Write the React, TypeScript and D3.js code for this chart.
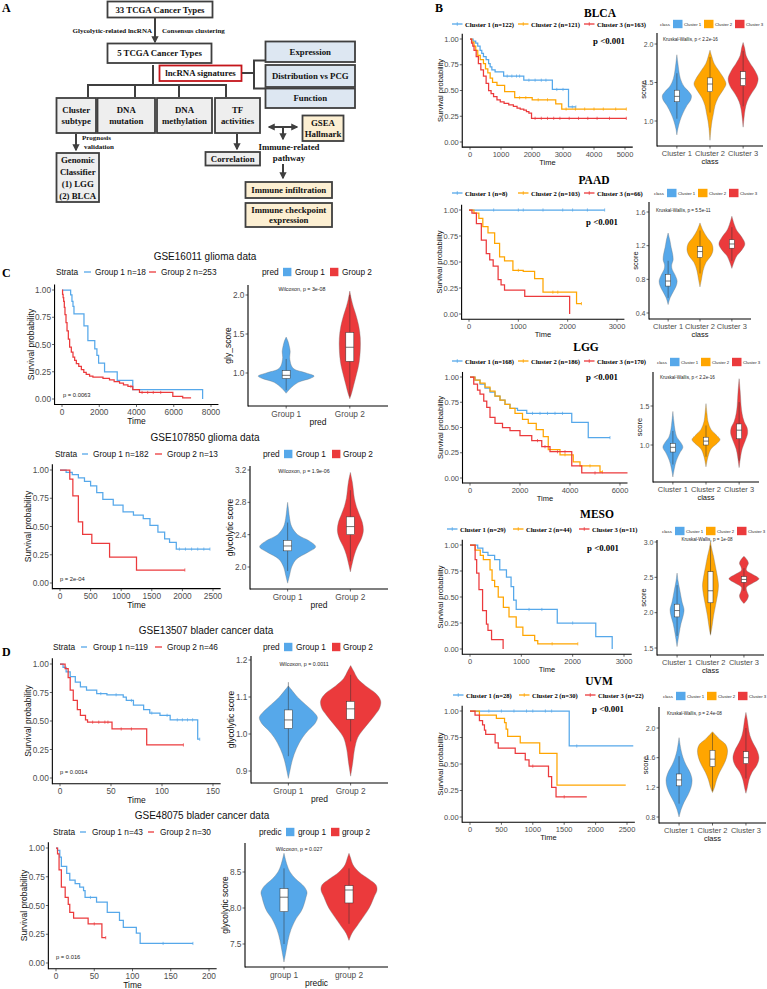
import React from "react";
import * as d3 from "d3";

type Step = [number, number];
type Dens = [number, number];
type Box = [number, number, number, number, number];

const BLUE = "#56A8EA";
const ORANGE = "#FFA500";
const RED = "#EB3A3C";
const SERIF = "'Liberation Serif','Times New Roman',serif";
const SANS = "'Liberation Sans',Arial,sans-serif";

// ---------------- shared ticks ----------------
const survTicks = [0, 0.25, 0.5, 0.75, 1];
const clusterNames = ["Cluster 1", "Cluster 2", "Cluster 3"];
const groupNames = ["Group 1", "Group 2"];
const groupNamesLower = ["group 1", "group 2"];

// ---------------- Panel B: BLCA ----------------
const blcaN = [122, 121, 163];
const blcaTime = [0, 1000, 2000, 3000, 4000, 5000];
const blcaKM1: Step[] = [[0, 1], [100, 0.98], [185, 0.96], [250, 0.93], [325, 0.89], [380, 0.86], [434, 0.83], [520, 0.8], [600, 0.76], [650, 0.73], [705, 0.7], [810, 0.68], [1085, 0.64], [1735, 0.6], [2657, 0.51], [3178, 0.34], [3416, 0.34]];
const blcaKM2: Step[] = [[0, 1], [60, 0.97], [130, 0.93], [185, 0.89], [250, 0.84], [330, 0.8], [434, 0.76], [500, 0.71], [575, 0.67], [650, 0.62], [727, 0.58], [870, 0.55], [1117, 0.49], [1442, 0.43], [2006, 0.41], [2766, 0.37], [2960, 0.32], [5043, 0.32]];
const blcaKM3: Step[] = [[0, 1], [50, 0.96], [90, 0.93], [130, 0.89], [200, 0.83], [270, 0.76], [350, 0.7], [434, 0.64], [520, 0.57], [600, 0.5], [680, 0.47], [760, 0.44], [870, 0.41], [976, 0.39], [1100, 0.375], [1250, 0.36], [1400, 0.345], [1518, 0.33], [1620, 0.32], [1735, 0.31], [1820, 0.295], [1900, 0.28], [1985, 0.23], [5043, 0.23]];
const blcaCens1 = [1200, 1350, 1500, 1600, 1900, 2100, 2300, 2450, 2800, 3000, 3300, 3416];
const blcaCens2 = [1600, 1800, 2200, 2500, 3100, 3400, 3700, 4000, 4300, 4700, 5043];
const blcaCens3 = [2100, 2300, 2500, 2700, 2900, 3200, 3500, 3800, 4100, 4500, 5043];
const blcaScoreTicks = [1.0, 1.5, 2.0];
const blcaV1: Dens[] = [[0.82, 0], [0.9, 1], [1.0, 3], [1.1, 6], [1.2, 10], [1.28, 14], [1.33, 14.5], [1.38, 12], [1.45, 7], [1.55, 3.5], [1.65, 2], [1.75, 1], [1.86, 0]];
const blcaV2: Dens[] = [[0.75, 0], [0.9, 1], [1.0, 2], [1.1, 3.5], [1.2, 5], [1.3, 8], [1.4, 13], [1.48, 16], [1.55, 14], [1.65, 9], [1.75, 4], [1.85, 1.5], [1.92, 0]];
const blcaV3: Dens[] = [[0.92, 0], [1.05, 1], [1.15, 2], [1.25, 4], [1.35, 8], [1.45, 13], [1.55, 15], [1.65, 12], [1.75, 7], [1.85, 3], [1.95, 1.5], [2.02, 0]];
const blcaBox: Box[] = [[1.03, 1.25, 1.32, 1.4, 1.62], [1.11, 1.38, 1.48, 1.56, 1.83], [1.19, 1.46, 1.55, 1.64, 1.91]];

// ---------------- Panel B: PAAD ----------------
const paadN = [8, 103, 66];
const paadTime = [0, 1000, 2000, 3000];
const paadKM1: Step[] = [[0, 1], [2750, 1]];
const paadKM2: Step[] = [[0, 1], [100, 0.97], [200, 0.92], [280, 0.84], [385, 0.78], [520, 0.68], [620, 0.55], [720, 0.51], [890, 0.42], [1100, 0.41], [1330, 0.34], [1500, 0.21], [2180, 0.1], [2280, 0.1]];
const paadKM3: Step[] = [[0, 1], [60, 0.97], [150, 0.87], [250, 0.71], [350, 0.58], [420, 0.52], [490, 0.46], [590, 0.33], [650, 0.28], [720, 0.23], [1130, 0.17], [2040, 0]];
const paadCens1 = [500, 1000, 1100, 1500, 1900, 2100, 2400, 2750];
const paadCens2 = [1000, 1700, 1800, 2280];
const paadScoreTicks = [0.4, 0.8, 1.2, 1.6];
const paadV1: Dens[] = [[0.5, 0], [0.58, 2], [0.65, 5], [0.72, 8], [0.78, 9], [0.85, 7], [0.92, 4], [0.97, 3.5], [1.03, 5], [1.1, 4.5], [1.18, 3], [1.25, 2], [1.35, 0]];
const paadV2: Dens[] = [[0.71, 0], [0.8, 1.5], [0.9, 3], [1.0, 6], [1.08, 11], [1.15, 13], [1.22, 12], [1.3, 7], [1.38, 3], [1.47, 0]];
const paadV3: Dens[] = [[0.93, 0], [1.0, 2], [1.08, 5], [1.15, 10], [1.22, 13], [1.3, 10], [1.38, 5], [1.45, 2.5], [1.55, 0]];
const paadBox: Box[] = [[0.58, 0.72, 0.78, 0.86, 1.02], [0.87, 1.06, 1.13, 1.19, 1.38], [1.02, 1.17, 1.22, 1.27, 1.42]];

// ---------------- Panel B: LGG ----------------
const lggN = [168, 186, 170];
const lggTime = [0, 2000, 4000, 6000];
const lggKM1: Step[] = [[0, 1], [200, 0.97], [400, 0.93], [600, 0.89], [800, 0.85], [1000, 0.81], [1200, 0.77], [1400, 0.73], [1600, 0.69], [1900, 0.67], [2270, 0.64], [4070, 0.55], [4730, 0.4], [5600, 0.4]];
const lggKM2: Step[] = [[0, 1], [200, 0.97], [400, 0.94], [600, 0.9], [800, 0.86], [1000, 0.81], [1200, 0.77], [1400, 0.73], [1600, 0.69], [1800, 0.64], [2100, 0.58], [2330, 0.54], [2650, 0.48], [2930, 0.41], [3130, 0.28], [3600, 0.23], [4130, 0.16], [4400, 0.12], [5200, 0.06], [5300, 0.06]];
const lggKM3: Step[] = [[0, 1], [150, 0.93], [300, 0.87], [400, 0.83], [550, 0.76], [670, 0.7], [800, 0.6], [1000, 0.54], [1300, 0.5], [1600, 0.47], [2000, 0.42], [2470, 0.37], [2870, 0.31], [3200, 0.26], [4070, 0.12], [4470, 0.05], [6300, 0.05]];
const lggCens1 = [2500, 2800, 3100, 3400, 3700, 5600];
const lggCens2 = [3800, 4800, 5300];
const lggCens3 = [2700, 3000, 3500, 3800, 5000];
const lggScoreTicks = [1.0, 1.5];
const lggV1: Dens[] = [[0.59, 0], [0.7, 1.5], [0.8, 3.5], [0.9, 7], [0.97, 10], [1.03, 8], [1.1, 4], [1.2, 2], [1.3, 1], [1.43, 0]];
const lggV2: Dens[] = [[0.72, 0], [0.85, 2], [0.95, 5], [1.02, 11], [1.07, 14], [1.12, 11], [1.2, 5], [1.3, 2], [1.4, 1], [1.53, 0]];
const lggV3: Dens[] = [[0.71, 0], [0.85, 1.5], [0.95, 3], [1.05, 6], [1.15, 8.5], [1.22, 8], [1.3, 5], [1.4, 3], [1.5, 2], [1.6, 1.5], [1.7, 1], [1.85, 0]];
const lggBox: Box[] = [[0.75, 0.91, 0.97, 1.02, 1.18], [0.85, 1.0, 1.05, 1.1, 1.25], [0.8, 1.08, 1.19, 1.27, 1.55]];

// ---------------- Panel B: MESO ----------------
const mesoN = [29, 44, 11];
const mesoTime = [0, 1000, 2000, 3000];
const mesoKM1: Step[] = [[0, 1], [150, 0.97], [250, 0.93], [350, 0.9], [480, 0.86], [580, 0.76], [710, 0.69], [800, 0.6], [850, 0.47], [900, 0.38], [1700, 0.25], [2450, 0.12], [2770, 0]];
const mesoKM2: Step[] = [[0, 1], [100, 0.95], [200, 0.9], [260, 0.86], [390, 0.76], [430, 0.66], [480, 0.6], [550, 0.5], [650, 0.4], [760, 0.31], [900, 0.21], [1030, 0.13], [1260, 0.08], [1320, 0.05], [2100, 0.05]];
const mesoKM3: Step[] = [[0, 1], [100, 0.86], [130, 0.73], [175, 0.57], [245, 0.37], [320, 0.24], [350, 0.18], [420, 0.09], [645, 0]];
const mesoCens1 = [1150, 1400, 2000];
const mesoCens2 = [1600, 2100];
const mesoScoreTicks = [1.5, 2.0, 2.5, 3.0];
const mesoV1: Dens[] = [[1.52, 0], [1.7, 2], [1.85, 4], [1.95, 6], [2.04, 7], [2.15, 5], [2.3, 3], [2.45, 1], [2.56, 0]];
const mesoV2: Dens[] = [[1.68, 0], [1.8, 1.5], [1.95, 3], [2.1, 5], [2.25, 7], [2.38, 8], [2.5, 7], [2.65, 5], [2.8, 3], [2.92, 1], [3.02, 0]];
const mesoV3: Dens[] = [[2.13, 0], [2.18, 3], [2.24, 4.5], [2.3, 3], [2.36, 2.5], [2.42, 9], [2.48, 15], [2.54, 9], [2.6, 2.5], [2.65, 3], [2.7, 4.5], [2.75, 3], [2.8, 0]];
const mesoBox: Box[] = [[1.67, 1.94, 2.03, 2.12, 2.39], [1.7, 2.14, 2.31, 2.58, 2.95], [2.31, 2.43, 2.47, 2.51, 2.63]];

// ---------------- Panel B: UVM ----------------
const uvmN = [28, 30, 22];
const uvmTime = [0, 500, 1000, 1500, 2000, 2500];
const uvmKM1: Step[] = [[0, 1], [1580, 0.67], [2600, 0.67]];
const uvmKM2: Step[] = [[0, 1], [150, 0.96], [420, 0.93], [550, 0.89], [575, 0.83], [600, 0.76], [800, 0.7], [1110, 0.6], [1385, 0.3], [2480, 0.3]];
const uvmKM3: Step[] = [[0, 1], [80, 0.96], [150, 0.91], [200, 0.87], [230, 0.82], [250, 0.78], [400, 0.7], [450, 0.65], [720, 0.6], [880, 0.54], [940, 0.48], [1250, 0.38], [1300, 0.28], [1370, 0.19], [1860, 0.19]];
const uvmCens1 = [300, 500, 700, 900, 1000, 1200, 1300, 1700];
const uvmCens3 = [1000, 1500];
const uvmScoreTicks = [0.8, 1.2, 1.6, 2.0];
const uvmV1: Dens[] = [[0.8, 0], [0.9, 2], [1.0, 5], [1.1, 9], [1.2, 12], [1.3, 13], [1.4, 11], [1.5, 7], [1.6, 4], [1.7, 2], [1.87, 0]];
const uvmV2: Dens[] = [[1.13, 0], [1.2, 2], [1.3, 4], [1.4, 7], [1.5, 11], [1.6, 14], [1.7, 15], [1.78, 13], [1.85, 7], [1.95, 0]];
const uvmV3: Dens[] = [[1.12, 0], [1.2, 1.5], [1.3, 3], [1.4, 6], [1.5, 11], [1.6, 13], [1.7, 11], [1.8, 7], [1.9, 4], [2.0, 2.5], [2.1, 1.5], [2.21, 0]];
const uvmBox: Box[] = [[0.98, 1.22, 1.3, 1.38, 1.62], [1.15, 1.48, 1.58, 1.7, 1.93], [1.32, 1.52, 1.6, 1.68, 2.0]];

// ---------------- Panel C: GSE16011 ----------------
const g16011N = [18, 253];
const g16011Time = [0, 2000, 4000, 6000, 8000];
const g16011KM1: Step[] = [[0, 1], [464, 0.955], [535, 0.895], [590, 0.85], [643, 0.78], [1180, 0.67], [1390, 0.535], [1760, 0.46], [1875, 0.4], [1965, 0.33], [2285, 0.25], [2965, 0.17], [3800, 0.085], [7550, 0]];
const g16011KM2: Step[] = [[0, 1], [30, 0.96], [60, 0.93], [90, 0.895], [125, 0.84], [160, 0.775], [215, 0.7], [270, 0.625], [340, 0.55], [410, 0.475], [500, 0.43], [590, 0.385], [680, 0.355], [770, 0.325], [900, 0.3], [1040, 0.27], [1170, 0.245], [1300, 0.225], [1480, 0.21], [1660, 0.2], [2200, 0.19], [2550, 0.175], [2800, 0.16], [3090, 0.145], [3300, 0.13], [3540, 0.115], [3800, 0.085], [4160, 0.06], [5950, 0.025], [6480, 0.01], [6930, 0.01]];
const g16011Cens2 = [3700, 4300, 4600, 4900, 5300];
const g16011ScoreTicks = [1.0, 1.5, 2.0];
const g16011V1: Dens[] = [[0.74, 0], [0.8, 4], [0.88, 12], [0.93, 24], [0.96, 28], [1.0, 20], [1.05, 8], [1.1, 5], [1.15, 4], [1.2, 3.5], [1.28, 4], [1.35, 3], [1.4, 2], [1.46, 0]];
const g16011V2: Dens[] = [[0.67, 0], [0.75, 2], [0.85, 4], [0.95, 6], [1.05, 8], [1.15, 9.5], [1.3, 10.5], [1.45, 10.5], [1.6, 9], [1.75, 6], [1.85, 3.5], [1.95, 1.5], [2.05, 0]];
const g16011Box: Box[] = [[0.78, 0.93, 0.97, 1.03, 1.18], [0.7, 1.15, 1.33, 1.52, 2.0]];

// ---------------- Panel C: GSE107850 ----------------
const g107850N = [182, 13];
const g107850Time = [0, 500, 1000, 1500, 2000, 2500];
const g107850KM1: Step[] = [[0, 1], [100, 0.98], [200, 0.96], [300, 0.93], [400, 0.9], [500, 0.86], [600, 0.8], [700, 0.74], [870, 0.69], [1030, 0.63], [1200, 0.6], [1360, 0.57], [1470, 0.51], [1600, 0.45], [1710, 0.39], [1790, 0.36], [1900, 0.3], [2450, 0.3]];
const g107850KM2: Step[] = [[0, 1], [160, 0.92], [210, 0.77], [300, 0.54], [370, 0.43], [520, 0.35], [810, 0.23], [1250, 0.115], [2040, 0.115]];
const g107850Cens1 = [1950, 2050, 2150, 2250, 2350, 2450];
const g107850Cens2 = [2040];
const g107850ScoreTicks = [2.0, 2.4, 2.8, 3.2];
const g107850V1: Dens[] = [[1.8, 0], [1.9, 2], [2.0, 4], [2.1, 9], [2.18, 20], [2.25, 28], [2.32, 22], [2.4, 10], [2.5, 4], [2.6, 2], [2.7, 1], [2.8, 0]];
const g107850V2: Dens[] = [[1.94, 0], [2.05, 2], [2.15, 4], [2.25, 7], [2.35, 11], [2.45, 13], [2.55, 12], [2.65, 9], [2.75, 6], [2.85, 4], [2.95, 3], [3.05, 2], [3.17, 0]];
const g107850Box: Box[] = [[1.95, 2.2, 2.26, 2.33, 2.55], [2.07, 2.4, 2.5, 2.62, 2.95]];

// ---------------- Panel D: GSE13507 ----------------
const g13507N = [119, 46];
const g13507Time = [0, 50, 100, 150];
const g13507KM1: Step[] = [[0, 1], [3, 0.97], [6, 0.93], [10, 0.89], [15, 0.84], [20, 0.8], [26, 0.77], [36, 0.74], [46, 0.73], [62, 0.71], [65, 0.68], [72, 0.64], [82, 0.6], [88, 0.57], [98, 0.55], [108, 0.51], [135, 0.34], [137, 0.34]];
const g13507KM2: Step[] = [[0, 1], [5, 0.96], [8, 0.88], [10, 0.77], [13, 0.68], [17, 0.6], [20, 0.55], [25, 0.51], [27, 0.49], [51, 0.43], [85, 0.29], [121, 0.29]];
const g13507Cens1 = [40, 55, 70, 90, 105, 115, 120, 125, 130, 137];
const g13507Cens2 = [32, 38, 44, 47, 60, 70, 121];
const g13507ScoreTicks = [0.9, 1.0, 1.1, 1.2];
const g13507V1: Dens[] = [[0.88, 0], [0.9, 1.5], [0.93, 4], [0.96, 8], [0.99, 14], [1.01, 20], [1.03, 27], [1.045, 29], [1.06, 25], [1.08, 17], [1.1, 9], [1.12, 3], [1.13, 0]];
const g13507V2: Dens[] = [[0.886, 0], [0.92, 2], [0.96, 4], [0.99, 7], [1.01, 12], [1.03, 18], [1.05, 24], [1.07, 29], [1.09, 30], [1.11, 25], [1.13, 15], [1.15, 7], [1.17, 3], [1.185, 0]];
const g13507Box: Box[] = [[0.94, 1.015, 1.038, 1.065, 1.14], [0.98, 1.04, 1.068, 1.088, 1.16]];

// ---------------- Panel D: GSE48075 ----------------
const g48075N = [43, 30];
const g48075Time = [0, 50, 100, 150, 200];
const g48075KM1: Step[] = [[0, 1], [2, 0.98], [5, 0.92], [7, 0.84], [14, 0.78], [18, 0.72], [25, 0.69], [31, 0.66], [36, 0.63], [38, 0.57], [53, 0.53], [67, 0.44], [83, 0.37], [88, 0.31], [105, 0.26], [110, 0.17], [179, 0.17]];
const g48075KM2: Step[] = [[0, 1], [2, 0.95], [4, 0.81], [7, 0.66], [12, 0.57], [16, 0.51], [18, 0.44], [23, 0.39], [42, 0.34], [60, 0.22], [65, 0.22]];
const g48075Cens1 = [45, 140, 179];
const g48075Cens2 = [50, 65];
const g48075ScoreTicks = [7.5, 8.0, 8.5];
const g48075V1: Dens[] = [[7.25, 0], [7.4, 2], [7.55, 4], [7.7, 7], [7.85, 12], [7.95, 17], [8.05, 20], [8.15, 22], [8.22, 23], [8.3, 20], [8.4, 12], [8.5, 6], [8.6, 3], [8.76, 0]];
const g48075V2: Dens[] = [[7.55, 0], [7.65, 3], [7.75, 8], [7.85, 13], [7.95, 18], [8.05, 22], [8.15, 25], [8.25, 28], [8.32, 27], [8.4, 20], [8.5, 10], [8.6, 4], [8.7, 1.5], [8.76, 0]];
const g48075Box: Box[] = [[7.5, 7.95, 8.15, 8.27, 8.55], [7.78, 8.07, 8.25, 8.31, 8.55]];

// ---------------- helpers ----------------
const fmt2 = d3.format(".2f");
const fmt1 = d3.format(".1f");

function survAt(steps: Step[], t: number) {
  let s = steps[0][1];
  for (const [tt, ss] of steps) { if (tt <= t) s = ss; }
  return s;
}

type Curve = { steps: Step[]; color: string; cens?: number[] };

function KM(p: {
  l: number; r: number; t: number; b: number; xTicks: number[];
  curves: Curve[];
  tickFs: number; titleFs: number; yTitleDx: number; xLabDy: number; xTitleDy: number;
}) {
  const { l, r, t, b, xTicks, curves, tickFs, titleFs } = p;
  const x = d3.scaleLinear().domain([0, xTicks[xTicks.length - 1]]).range([l, r]);
  const y = d3.scaleLinear().domain([0, 1]).range([b, t]);
  const px = 0.05 * (r - l), py = 0.05 * (b - t);
  const axL = l - px, axR = r + px, axB = b + py, axT = t - py;
  const line = d3.line<Step>().x(d => x(d[0])).y(d => y(d[1])).curve(d3.curveStepAfter);
  return (
    <g fontFamily={SANS}>
      {curves.map((c, i) => (
        <g key={i}>
          <path d={line(c.steps) || ""} fill="none" stroke={c.color} strokeWidth={1.25} />
          {(c.cens || []).map((ct, j) => {
            const cy = y(survAt(c.steps, ct));
            return <line key={j} x1={x(ct)} x2={x(ct)} y1={cy - 1.6} y2={cy + 1.6} stroke={c.color} strokeWidth={0.7} />;
          })}
        </g>
      ))}
      <line x1={axL} x2={axL} y1={axT} y2={axB + 0.5} stroke="#000" strokeWidth={1.1} />
      <line x1={axL} x2={axR} y1={axB} y2={axB} stroke="#000" strokeWidth={1.1} />
      {survTicks.map(v => (
        <g key={v}>
          <line x1={axL - 2.5} x2={axL} y1={y(v)} y2={y(v)} stroke="#222" strokeWidth={0.7} />
          <text x={axL - 3.5} y={y(v)} dominantBaseline="central" textAnchor="end" fontSize={tickFs} fill="#4D4D4D">{fmt2(v)}</text>
        </g>
      ))}
      {xTicks.map(v => (
        <g key={v}>
          <line x1={x(v)} x2={x(v)} y1={axB} y2={axB + 2.5} stroke="#222" strokeWidth={0.7} />
          <text x={x(v)} y={axB + p.xLabDy} dominantBaseline="central" textAnchor="middle" fontSize={tickFs} fill="#4D4D4D">{v}</text>
        </g>
      ))}
      <text x={(axL + axR) / 2} y={axB + p.xTitleDy} dominantBaseline="central" textAnchor="middle" fontSize={titleFs} fill="#111">Time</text>
      <text transform={`translate(${axL - p.yTitleDx},${(axT + axB) / 2}) rotate(-90)`} dominantBaseline="central" textAnchor="middle" fontSize={titleFs} fill="#111">Survival probability</text>
    </g>
  );
}

function Violin(p: {
  ax: number; right: number; top: number; bottom: number; yRef: [number, number, number, number];
  yTicks: number[]; cats: string[]; groups: { dens: Dens[]; box: Box; color: string }[];
  boxW: number; tickFs: number; catFs: number; titleFs: number; yTitle: string; xTitle: string;
  yTitleDx: number; catDy: number; xTitleDy: number;
}) {
  const { ax, right, top, bottom, yRef, cats, groups } = p;
  const y = d3.scaleLinear().domain([yRef[0], yRef[2]]).range([yRef[1], yRef[3]]);
  const xs = d3.scalePoint<string>().domain(cats).range([ax, right]).padding(0.6);
  const w = d3.scaleLinear().domain([0, 30]).range([0, 30]);
  return (
    <g fontFamily={SANS}>
      {groups.map((g, i) => {
        const cx = xs(cats[i]) as number;
        const area = d3.area<Dens>().y(d => y(d[0])).x0(d => cx - w(d[1])).x1(d => cx + w(d[1])).curve(d3.curveCatmullRom);
        const [lo, q1, med, q3, hi] = g.box;
        return (
          <g key={i}>
            <path d={area(g.dens) || ""} fill={g.color} stroke="#6e6e6e" strokeWidth={0.35} />
            <line x1={cx} x2={cx} y1={y(hi)} y2={y(lo)} stroke="#333" strokeWidth={0.5} />
            <rect x={cx - p.boxW / 2} y={y(q3)} width={p.boxW} height={y(q1) - y(q3)} fill="#fff" stroke="#333" strokeWidth={0.5} />
            <line x1={cx - p.boxW / 2} x2={cx + p.boxW / 2} y1={y(med)} y2={y(med)} stroke="#333" strokeWidth={0.7} />
          </g>
        );
      })}
      <line x1={ax} x2={ax} y1={top} y2={bottom + 0.5} stroke="#000" strokeWidth={1.1} />
      <line x1={ax} x2={right} y1={bottom} y2={bottom} stroke="#000" strokeWidth={1.1} />
      {p.yTicks.map(v => (
        <g key={v}>
          <line x1={ax - 2.5} x2={ax} y1={y(v)} y2={y(v)} stroke="#222" strokeWidth={0.7} />
          <text x={ax - 3.5} y={y(v)} dominantBaseline="central" textAnchor="end" fontSize={p.tickFs} fill="#4D4D4D">{fmt1(v)}</text>
        </g>
      ))}
      {cats.map(c => (
        <g key={c}>
          <line x1={xs(c)} x2={xs(c)} y1={bottom} y2={bottom + 2.5} stroke="#222" strokeWidth={0.7} />
          <text x={xs(c)} y={bottom + p.catDy} dominantBaseline="central" textAnchor="middle" fontSize={p.catFs} fill="#4D4D4D">{c}</text>
        </g>
      ))}
      <text x={(ax + right) / 2} y={bottom + p.xTitleDy} dominantBaseline="central" textAnchor="middle" fontSize={p.titleFs} fill="#111">{p.xTitle}</text>
      <text transform={`translate(${ax - p.yTitleDx},${(top + bottom) / 2}) rotate(-90)`} dominantBaseline="central" textAnchor="middle" fontSize={p.titleFs} fill="#111">{p.yTitle}</text>
    </g>
  );
}

const COLORS3 = [BLUE, ORANGE, RED];

function BRow(p: {
  title: string; titleX: number; titleY: number; legY: number; legDx: number; n: number[];
  km: { l: number; r: number; t: number; b: number }; time: number[]; kms: Step[][]; cens: number[][];
  pX: number; pY: number;
  vio: { ax: number; right: number; top: number; bottom: number; yRef: [number, number, number, number] };
  scoreTicks: number[]; dens: Dens[][]; boxes: Box[];
  vLegX: number; vLegY: number; kwText: string; kwX: number; kwY: number; kwAnchor: "start" | "middle";
}) {
  const lineX = [452, 518, 584];
  return (
    <g>
      <text x={p.titleX} y={p.titleY} dominantBaseline="central" textAnchor="middle" fontFamily={SERIF} fontWeight="bold" fontSize={11.5}>{p.title}</text>
      {clusterNames.map((c, i) => (
        <g key={c} transform={`translate(${lineX[i] + p.legDx},${p.legY})`}>
          <line x1={0} x2={10.5} y1={0} y2={0} stroke={COLORS3[i]} strokeWidth={1.3} />
          <line x1={5.25} x2={5.25} y1={-1.8} y2={1.8} stroke={COLORS3[i]} strokeWidth={0.8} />
          <text x={13} y={0} dominantBaseline="central" fontFamily={SERIF} fontWeight="bold" fontSize={6.6}>{`${c} (n=${p.n[i]})`}</text>
        </g>
      ))}
      <KM l={p.km.l} r={p.km.r} t={p.km.t} b={p.km.b} xTicks={p.time}
        curves={p.kms.map((s, i) => ({ steps: s, color: COLORS3[i], cens: p.cens[i] }))}
        tickFs={7.5} titleFs={7.5} yTitleDx={22} xLabDy={7} xTitleDy={15} />
      <text x={p.pX} y={p.pY} dominantBaseline="central" textAnchor="end" fontFamily={SERIF} fontWeight="bold" fontSize={8.8}>p &lt;0.001</text>
      <g transform={`translate(${p.vLegX},${p.vLegY})`} fontFamily={SANS}>
        <text x={0} y={0} dominantBaseline="central" fontSize={4.3} fill="#222">class</text>
        {clusterNames.map((c, i) => (
          <g key={c} transform={`translate(${13 + i * 31},0)`}>
            <rect x={0} y={-4.2} width={9.5} height={8.4} fill={COLORS3[i]} />
            <text x={11} y={0} dominantBaseline="central" fontSize={4.3} fill="#222">{c}</text>
          </g>
        ))}
      </g>
      <text x={p.kwX} y={p.kwY} dominantBaseline="central" textAnchor={p.kwAnchor} fontFamily={SANS} fontSize={4.6} fill="#222">{p.kwText}</text>
      <Violin ax={p.vio.ax} right={p.vio.right} top={p.vio.top} bottom={p.vio.bottom} yRef={p.vio.yRef}
        yTicks={p.scoreTicks} cats={clusterNames}
        groups={p.dens.map((d, i) => ({ dens: d, box: p.boxes[i], color: COLORS3[i] }))}
        boxW={5} tickFs={7} catFs={7.5} titleFs={7.5} yTitle="score" xTitle="class" yTitleDx={14} catDy={7} xTitleDy={15} />
    </g>
  );
}

function LRow(p: {
  title: string; titleX: number; titleY: number; legY: number;
  strataX: number; dash: [number, number][]; gTextX: number[]; gLabels: string[];
  predLabel: string; predX: number; sqX: number[]; sqTextX: number[]; cats: string[];
  km: { l: number; r: number; t: number; b: number }; time: number[]; kms: Step[][]; cens: number[][];
  pText: string; pX: number; pY: number;
  vio: { ax: number; right: number; top: number; bottom: number; yRef: [number, number, number, number] };
  scoreTicks: number[]; dens: Dens[][]; boxes: Box[]; yTitle: string; xTitle: string;
  wText: string; wX: number; wY: number;
}) {
  const cols = [BLUE, RED];
  return (
    <g fontFamily={SANS}>
      <text x={p.titleX} y={p.titleY} dominantBaseline="central" textAnchor="middle" fontSize={10} fill="#111">{p.title}</text>
      <text x={p.strataX} y={p.legY} dominantBaseline="central" fontSize={8.3} fill="#111">Strata</text>
      {p.gLabels.map((g, i) => (
        <g key={g}>
          <line x1={p.dash[i][0]} x2={p.dash[i][1]} y1={p.legY} y2={p.legY} stroke={cols[i]} strokeWidth={1.3} />
          <text x={p.gTextX[i]} y={p.legY} dominantBaseline="central" fontSize={8.3} fill="#111">{g}</text>
        </g>
      ))}
      <text x={p.predX} y={p.legY} dominantBaseline="central" fontSize={8.3} fill="#111">{p.predLabel}</text>
      {p.cats.map((c, i) => (
        <g key={c}>
          <rect x={p.sqX[i]} y={p.legY - 4.2} width={8.4} height={8.4} fill={cols[i]} />
          <text x={p.sqTextX[i]} y={p.legY} dominantBaseline="central" fontSize={8.3} fill="#111">{c}</text>
        </g>
      ))}
      <KM l={p.km.l} r={p.km.r} t={p.km.t} b={p.km.b} xTicks={p.time}
        curves={p.kms.map((s, i) => ({ steps: s, color: cols[i], cens: p.cens[i] }))}
        tickFs={8.3} titleFs={8.5} yTitleDx={24} xLabDy={7.5} xTitleDy={16.5} />
      <text x={p.pX} y={p.pY} dominantBaseline="central" fontSize={5.8} fill="#222">{p.pText}</text>
      <text x={p.wX} y={p.wY} dominantBaseline="central" textAnchor="middle" fontSize={5.3} fill="#222">{p.wText}</text>
      <Violin ax={p.vio.ax} right={p.vio.right} top={p.vio.top} bottom={p.vio.bottom} yRef={p.vio.yRef}
        yTicks={p.scoreTicks} cats={p.cats}
        groups={p.dens.map((d, i) => ({ dens: d, box: p.boxes[i], color: cols[i] }))}
        boxW={8} tickFs={8.3} catFs={8.3} titleFs={8.5} yTitle={p.yTitle} xTitle={p.xTitle} yTitleDx={20} catDy={7.5} xTitleDy={16} />
    </g>
  );
}

function PanelA() {
  const st = "#3f3f3f";
  const Box = (b: { x: number; y: number; w: number; h: number; fill: string; lines: string[]; stroke?: string; lh?: number }) => {
    const lh = b.lh ?? 11.8;
    const cy = b.y + b.h / 2;
    const n = b.lines.length;
    return (
      <g>
        <rect x={b.x} y={b.y} width={b.w} height={b.h} fill={b.fill} stroke={b.stroke ?? st} strokeWidth={1.8} />
        {b.lines.map((t, i) => (
          <text key={i} x={b.x + b.w / 2} y={cy + (i - (n - 1) / 2) * lh} dominantBaseline="central" textAnchor="middle"
            fontFamily={SERIF} fontWeight="bold" fontSize={8.8} fill="#111">{t}</text>
        ))}
      </g>
    );
  };
  const W = "#ffffff", BL = "#dde7f2", GR = "#eeeeee", BE = "#fcefd2";
  const ln = { stroke: st, strokeWidth: 2 };
  const small = { fontFamily: SERIF, fontWeight: "bold" as const, fontSize: 7, fill: "#111" };
  const mid = { fontFamily: SERIF, fontWeight: "bold" as const, fontSize: 8.8, fill: "#111" };
  return (
    <g>
      <text x={2} y={8} dominantBaseline="central" fontFamily={SERIF} fontWeight="bold" fontSize={12}>A</text>
      <Box x={107.5} y={1.5} w={105} h={16} fill={W} lines={["33 TCGA Cancer Types"]} />
      <line x1={155} x2={155} y1={18} y2={42} {...ln} markerEnd="url(#arr)" />
      <text x={152} y={31} dominantBaseline="central" textAnchor="end" {...small}>Glycolytic-related lncRNA</text>
      <text x={162} y={31} dominantBaseline="central" {...small}>Consensus clustering</text>
      <Box x={107.5} y={43.5} w={104} h={19.5} fill={W} lines={["5 TCGA Cancer Types"]} />
      <line x1={153} x2={153} y1={65} y2={85} {...ln} />
      <Box x={159.5} y={65.5} w={82} h={15.5} fill={W} stroke="#c4151b" lines={["lncRNA signatures"]} />
      <line x1={242} x2={254} y1={73} y2={73} {...ln} />
      <path d="M265,60.5 H254 V88.5 H265" fill="none" {...ln} />
      <Box x={265.5} y={41.5} w={89.5} h={20.5} fill={BL} lines={["Expression"]} />
      <Box x={265.5} y={65} w={89.5} h={22} fill={BL} lines={["Distribution vs PCG"]} />
      <Box x={265.5} y={88.5} w={89.5} h={19.5} fill={BL} lines={["Function"]} />
      <path d="M88,97 V85 H226 V97 M135,85 V97 M179,85 V97" fill="none" {...ln} />
      <Box x={56.5} y={98} w={39.5} h={35} fill={GR} lines={["Cluster", "subtype"]} />
      <Box x={97.5} y={98} w={57.5} h={35} fill={GR} lines={["DNA", "mutation"]} />
      <Box x={157} y={98} w={55} h={35} fill={GR} lines={["DNA", "methylation"]} />
      <Box x={215} y={98} w={45} h={35} fill={GR} lines={["TF", "activities"]} />
      <line x1={76} x2={76} y1={134} y2={150} {...ln} markerEnd="url(#arr)" />
      <text x={82} y={138} dominantBaseline="central" {...small}>Prognosis</text>
      <text x={84} y={147} dominantBaseline="central" {...small}>validation</text>
      <Box x={56.5} y={153} w={42.5} h={49} fill={GR} lh={12} lines={["Genomic", "Classifier", "(1) LGG", "(2) BLCA"]} />
      <line x1={237} x2={237} y1={134} y2={149} {...ln} markerEnd="url(#arr)" />
      <Box x={205.5} y={152} w={54.5} h={13.5} fill={GR} lines={["Correlation"]} />
      <line x1={269} x2={297} y1={127} y2={127} {...ln} markerStart="url(#arr)" markerEnd="url(#arr)" />
      <line x1={283} x2={283} y1={127} y2={139} {...ln} markerEnd="url(#arr)" />
      <Box x={302.5} y={115.5} w={41} h={25.5} fill={BE} lh={11} lines={["GSEA", "Hallmark"]} />
      <text x={289} y={147} dominantBaseline="central" textAnchor="middle" {...mid}>Immune-related</text>
      <text x={289} y={158} dominantBaseline="central" textAnchor="middle" {...mid}>pathway</text>
      <line x1={283} x2={283} y1={164} y2={178} {...ln} markerEnd="url(#arr)" />
      <Box x={245.5} y={182} w={86.5} h={16} fill={BE} lines={["Immune infiltration"]} />
      <Box x={245.5} y={203} w={86.5} h={24} fill={BE} lh={10.8} lines={["Immune checkpoint", "expression"]} />
    </g>
  );
}

export default function App() {
  return (
    <svg width={767} height={989} viewBox="0 0 767 989" style={{ position: "absolute", left: 0, top: 0, background: "#fff" }}>
      <defs>
        <marker id="arr" viewBox="0 0 10 10" refX="8" refY="5" markerWidth="3.6" markerHeight="3.6" orient="auto-start-reverse">
          <path d="M0,0 L10,5 L0,10 z" fill="#3f3f3f" />
        </marker>
      </defs>
      <rect x={0} y={0} width={767} height={989} fill="#fff" />
      <PanelA />

      {/* Panel B */}
      <text x={435} y={8} dominantBaseline="central" fontFamily={SERIF} fontWeight="bold" fontSize={12}>B</text>
      <BRow title="BLCA" titleX={600} titleY={13} legY={24} legDx={0} n={blcaN}
        km={{ l: 470, r: 625, t: 39, b: 142 }} time={blcaTime} kms={[blcaKM1, blcaKM2, blcaKM3]} cens={[blcaCens1, blcaCens2, blcaCens3]} pX={625} pY={41}
        vio={{ ax: 657, right: 763, top: 33, bottom: 146, yRef: [1.0, 121, 2.0, 44] }}
        scoreTicks={blcaScoreTicks} dens={[blcaV1, blcaV2, blcaV3]} boxes={blcaBox}
        vLegX={660} vLegY={24} kwText="Kruskal-Wallis, p < 2.2e-16" kwX={663} kwY={39} kwAnchor="start" />
      <BRow title="PAAD" titleX={594} titleY={180} legY={193} legDx={0} n={paadN}
        km={{ l: 469, r: 617, t: 210, b: 314 }} time={paadTime} kms={[paadKM1, paadKM2, paadKM3]} cens={[paadCens1, paadCens2, []]} pX={618} pY={222}
        vio={{ ax: 649, right: 751, top: 202, bottom: 319, yRef: [0.4, 313, 1.6, 212] }}
        scoreTicks={paadScoreTicks} dens={[paadV1, paadV2, paadV3]} boxes={paadBox}
        vLegX={654} vLegY={193} kwText="Kruskal-Wallis, p = 5.5e-11" kwX={656} kwY={210} kwAnchor="start" />
      <BRow title="LGG" titleX={586} titleY={347} legY={361} legDx={0} n={lggN}
        km={{ l: 470, r: 620, t: 377, b: 478 }} time={lggTime} kms={[lggKM1, lggKM2, lggKM3]} cens={[lggCens1, lggCens2, lggCens3]} pX={618} pY={377}
        vio={{ ax: 653, right: 759, top: 372, bottom: 482, yRef: [1.0, 445, 1.5, 406] }}
        scoreTicks={lggScoreTicks} dens={[lggV1, lggV2, lggV3]} boxes={lggBox}
        vLegX={657} vLegY={362} kwText="Kruskal-Wallis, p < 2.2e-16" kwX={660} kwY={377} kwAnchor="start" />
      <BRow title="MESO" titleX={597} titleY={514} legY={529} legDx={-5} n={mesoN}
        km={{ l: 470, r: 624, t: 545, b: 649 }} time={mesoTime} kms={[mesoKM1, mesoKM2, mesoKM3]} cens={[mesoCens1, mesoCens2, []]} pX={619} pY={548}
        vio={{ ax: 657, right: 764, top: 540, bottom: 655, yRef: [1.5, 648, 3.0, 542] }}
        scoreTicks={mesoScoreTicks} dens={[mesoV1, mesoV2, mesoV3]} boxes={mesoBox}
        vLegX={662} vLegY={531} kwText="Kruskal-Wallis, p = 1e-08" kwX={707} kwY={539} kwAnchor="middle" />
      <BRow title="UVM" titleX={599} titleY={681} legY={695} legDx={1} n={uvmN}
        km={{ l: 470, r: 627, t: 711, b: 817 }} time={uvmTime} kms={[uvmKM1, uvmKM2, uvmKM3]} cens={[uvmCens1, [], uvmCens3]} pX={624} pY={709}
        vio={{ ax: 659, right: 766, top: 707, bottom: 823, yRef: [0.8, 817, 2.0, 728] }}
        scoreTicks={uvmScoreTicks} dens={[uvmV1, uvmV2, uvmV3]} boxes={uvmBox}
        vLegX={663} vLegY={696} kwText="Kruskal-Wallis, p = 2.4e-08" kwX={667} kwY={713} kwAnchor="start" />

      {/* Panel C */}
      <text x={2} y={273} dominantBaseline="central" fontFamily={SERIF} fontWeight="bold" fontSize={12}>C</text>
      <LRow title="GSE16011 glioma data" titleX={205} titleY={256} legY={272}
        strataX={56} dash={[[84, 91], [149, 156]]} gTextX={[95, 161]} gLabels={[`Group 1 n=${g16011N[0]}`, `Group 2 n=${g16011N[1]}`]}
        predLabel="pred" predX={262} sqX={[283, 330]} sqTextX={[295, 342]} cats={groupNames}
        km={{ l: 62, r: 211, t: 290, b: 399 }} time={g16011Time} kms={[g16011KM1, g16011KM2]} cens={[[], g16011Cens2]}
        pText="p = 0.0063" pX={63} pY={395}
        vio={{ ax: 248, right: 388, top: 285, bottom: 406, yRef: [1.0, 373, 2.0, 295] }}
        scoreTicks={g16011ScoreTicks} dens={[g16011V1, g16011V2]} boxes={g16011Box} yTitle="gly_score" xTitle="pred"
        wText="Wilcoxon, p = 3e-08" wX={302} wY={289} />
      <LRow title="GSE107850 glioma data" titleX={205} titleY={437} legY={454}
        strataX={55} dash={[[82, 88], [155, 162]]} gTextX={[93, 167]} gLabels={[`Group 1 n=${g107850N[0]}`, `Group 2 n=${g107850N[1]}`]}
        predLabel="pred" predX={263} sqX={[284, 332]} sqTextX={[296, 343]} cats={groupNames}
        km={{ l: 60, r: 213, t: 470, b: 583 }} time={g107850Time} kms={[g107850KM1, g107850KM2]} cens={[g107850Cens1, g107850Cens2]}
        pText="p = 2e-04" pX={60} pY={579}
        vio={{ ax: 250, right: 388, top: 466, bottom: 589, yRef: [2.0, 567, 3.2, 470] }}
        scoreTicks={g107850ScoreTicks} dens={[g107850V1, g107850V2]} boxes={g107850Box} yTitle="glycolytic score" xTitle="pred"
        wText="Wilcoxon, p = 1.9e-06" wX={304} wY={471} />

      {/* Panel D */}
      <text x={2} y={652} dominantBaseline="central" fontFamily={SERIF} fontWeight="bold" fontSize={12}>D</text>
      <LRow title="GSE13507 blader cancer data" titleX={206} titleY={630} legY={647}
        strataX={53} dash={[[81, 87], [155, 162]]} gTextX={[93, 167]} gLabels={[`Group 1 n=${g13507N[0]}`, `Group 2 n=${g13507N[1]}`]}
        predLabel="pred" predX={263} sqX={[284, 332]} sqTextX={[296, 343]} cats={groupNames}
        km={{ l: 60, r: 213, t: 664, b: 778 }} time={g13507Time} kms={[g13507KM1, g13507KM2]} cens={[g13507Cens1, g13507Cens2]}
        pText="p = 0.0014" pX={60} pY={772}
        vio={{ ax: 251, right: 388, top: 656, bottom: 783, yRef: [0.9, 771, 1.2, 660] }}
        scoreTicks={g13507ScoreTicks} dens={[g13507V1, g13507V2]} boxes={g13507Box} yTitle="glycolytic score" xTitle="pred"
        wText="Wilcoxon, p = 0.0011" wX={304} wY={664} />
      <LRow title="GSE48075 blader cancer data" titleX={202} titleY={815} legY={832}
        strataX={53} dash={[[80, 86], [148, 154]]} gTextX={[92, 160]} gLabels={[`Group 1 n=${g48075N[0]}`, `Group 2 n=${g48075N[1]}`]}
        predLabel="predic" predX={259} sqX={[286, 331]} sqTextX={[298, 342]} cats={groupNamesLower}
        km={{ l: 56, r: 209, t: 848, b: 963 }} time={g48075Time} kms={[g48075KM1, g48075KM2]} cens={[g48075Cens1, g48075Cens2]}
        pText="p = 0.016" pX={56} pY={957}
        vio={{ ax: 245, right: 388, top: 843, bottom: 967, yRef: [7.5, 944, 8.5, 872] }}
        scoreTicks={g48075ScoreTicks} dens={[g48075V1, g48075V2]} boxes={g48075Box} yTitle="glycolytic score" xTitle="predic"
        wText="Wilcoxon, p = 0.027" wX={299} wY={849} />
    </svg>
  );
}
